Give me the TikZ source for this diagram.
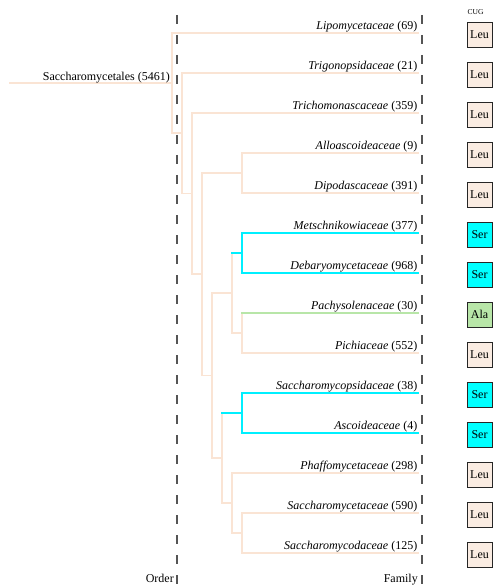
\documentclass[tikz,border=0pt]{standalone}
\usepackage{fontspec}
\setmainfont{Liberation Serif}
\usepackage{tikz}
\usetikzlibrary{calc}

\definecolor{leuline}{RGB}{250,228,212}
\definecolor{leufill}{RGB}{250,236,226}
\definecolor{serline}{RGB}{0,240,255}
\definecolor{serfill}{RGB}{0,255,255}
\definecolor{alaline}{RGB}{184,230,168}
\definecolor{guide}{RGB}{85,85,85}

\begin{document}
\begin{tikzpicture}[x=1pt,y=-1pt,
	branch/.style={line width=1.6pt, line cap=rect},
	taxon/.style={anchor=base east, inner sep=0pt, font=\fontsize{12}{14}\selectfont},
	cugbox/.style={draw=black!85, line width=0.8pt, minimum size=25pt, inner sep=0pt, font=\fontsize{12}{14}\selectfont},
	rank/.style={draw=guide, line width=1.2pt, dash pattern=on 9pt off 11pt}]
			\useasboundingbox (0,0) rectangle (493,585);
			% tips
			\coordinate (L1) at (418,33);
			\coordinate (L2) at (418,73);
			\coordinate (L3) at (418,113);
			\coordinate (L4) at (418,153);
			\coordinate (L5) at (418,193);
			\coordinate (L6) at (418,233);
			\coordinate (L7) at (418,273);
			\coordinate (L8) at (418,313);
			\coordinate (L9) at (418,353);
			\coordinate (L10) at (418,393);
			\coordinate (L11) at (418,433);
			\coordinate (L12) at (418,473);
			\coordinate (L13) at (418,513);
			\coordinate (L14) at (418,553);
			% inner nodes
			\coordinate (N12) at (242,533);
			\coordinate (N11) at (232,503);
			\coordinate (N10) at (242,413);
			\coordinate (N7) at (222,458);
			\coordinate (N9) at (242,333);
			\coordinate (N8) at (242,253);
			\coordinate (N6) at (232,293);
			\coordinate (N5) at (212,375.5);
			\coordinate (N4) at (242,173);
			\coordinate (N3) at (202,274.25);
			\coordinate (N2) at (192,193.6);
			\coordinate (N1) at (182,133.3);
			\coordinate (R) at (172,83.2);
			\coordinate (R0) at (10,83.2);
			% rank guides
			\draw[rank] (177,15) -- (177,585);
			\draw[rank] (422,15) -- (422,585);
			% Leu branches
			\draw[branch, leuline] (R0) -- (R);
			\draw[branch, leuline] (R |- L1) -- (R |- N1);
			\draw[branch, leuline] (R |- L1) -- (L1);
			\draw[branch, leuline] (R |- N1) -- (N1);
			\draw[branch, leuline] (N1 |- L2) -- (N1 |- N2);
			\draw[branch, leuline] (N1 |- L2) -- (L2);
			\draw[branch, leuline] (N1 |- N2) -- (N2);
			\draw[branch, leuline] (N2 |- L3) -- (N2 |- N3);
			\draw[branch, leuline] (N2 |- L3) -- (L3);
			\draw[branch, leuline] (N2 |- N3) -- (N3);
			\draw[branch, leuline] (N3 |- N4) -- (N3 |- N5);
			\draw[branch, leuline] (N3 |- N4) -- (N4);
			\draw[branch, leuline] (N3 |- N5) -- (N5);
			\draw[branch, leuline] (N4 |- L4) -- (N4 |- L5);
			\draw[branch, leuline] (N4 |- L4) -- (L4);
			\draw[branch, leuline] (N4 |- L5) -- (L5);
			\draw[branch, leuline] (N5 |- N6) -- (N5 |- N7);
			\draw[branch, leuline] (N5 |- N6) -- (N6);
			\draw[branch, leuline] (N5 |- N7) -- (N7);
			\draw[branch, leuline] (N6 |- N8) -- (N6 |- N9);
			\draw[branch, leuline] (N6 |- N9) -- (N9);
			\draw[branch, leuline] (N9 |- L8) -- (N9 |- L9);
			\draw[branch, leuline] (N9 |- L9) -- (L9);
			\draw[branch, leuline] (N7 |- N10) -- (N7 |- N11);
			\draw[branch, leuline] (N7 |- N11) -- (N11);
			\draw[branch, leuline] (N11 |- L12) -- (N11 |- N12);
			\draw[branch, leuline] (N11 |- L12) -- (L12);
			\draw[branch, leuline] (N11 |- N12) -- (N12);
			\draw[branch, leuline] (N12 |- L13) -- (N12 |- L14);
			\draw[branch, leuline] (N12 |- L13) -- (L13);
			\draw[branch, leuline] (N12 |- L14) -- (L14);
			% Ser and Ala branches
			\draw[branch, alaline] (N9 |- L8) -- (L8);
			\draw[branch, serline] (N6 |- N8) -- (N8);
			\draw[branch, serline] (N8 |- L6) -- (N8 |- L7);
			\draw[branch, serline] (N8 |- L6) -- (L6);
			\draw[branch, serline] (N8 |- L7) -- (L7);
			\draw[branch, serline] (N7 |- N10) -- (N10);
			\draw[branch, serline] (N10 |- L10) -- (N10 |- L11);
			\draw[branch, serline] (N10 |- L10) -- (L10);
			\draw[branch, serline] (N10 |- L11) -- (L11);
			% labels
			\node[taxon, xshift=-2pt, yshift=3pt] (order) at (R) {Saccharomycetales (5461)};
			\node[taxon, xshift=-0.5pt, yshift=3.5pt] (t1) at (L1) {\textit{Lipomycetaceae} (69)};
			\node[taxon, xshift=-0.5pt, yshift=3.5pt] (t2) at (L2) {\textit{Trigonopsidaceae} (21)};
			\node[taxon, xshift=-0.5pt, yshift=3.5pt] (t3) at (L3) {\textit{Trichomonascaceae} (359)};
			\node[taxon, xshift=-0.5pt, yshift=3.5pt] (t4) at (L4) {\textit{Alloascoideaceae} (9)};
			\node[taxon, xshift=-0.5pt, yshift=3.5pt] (t5) at (L5) {\textit{Dipodascaceae} (391)};
			\node[taxon, xshift=-0.5pt, yshift=3.5pt] (t6) at (L6) {\textit{Metschnikowiaceae} (377)};
			\node[taxon, xshift=-0.5pt, yshift=3.5pt] (t7) at (L7) {\textit{Debaryomycetaceae} (968)};
			\node[taxon, xshift=-0.5pt, yshift=3.5pt] (t8) at (L8) {\textit{Pachysolenaceae} (30)};
			\node[taxon, xshift=-0.5pt, yshift=3.5pt] (t9) at (L9) {\textit{Pichiaceae} (552)};
			\node[taxon, xshift=-0.5pt, yshift=3.5pt] (t10) at (L10) {\textit{Saccharomycopsidaceae} (38)};
			\node[taxon, xshift=-0.5pt, yshift=3.5pt] (t11) at (L11) {\textit{Ascoideaceae} (4)};
			\node[taxon, xshift=-0.5pt, yshift=3.5pt] (t12) at (L12) {\textit{Phaffomycetaceae} (298)};
			\node[taxon, xshift=-0.5pt, yshift=3.5pt] (t13) at (L13) {\textit{Saccharomycetaceae} (590)};
			\node[taxon, xshift=-0.5pt, yshift=3.5pt] (t14) at (L14) {\textit{Saccharomycodaceae} (125)};
			\node[taxon] (ordername) at (174,582) {Order};
			\node[taxon] (familyname) at (418,582) {Family};
			% CUG codon column
			\node[font=\fontsize{7.5}{9}\selectfont] (cug) at (475.5,12) {CUG};
			\node[cugbox, fill=leufill] (c1) at (479.5,34.5) {Leu};
			\node[cugbox, fill=leufill] (c2) at (479.5,74.5) {Leu};
			\node[cugbox, fill=leufill] (c3) at (479.5,114.5) {Leu};
			\node[cugbox, fill=leufill] (c4) at (479.5,154.5) {Leu};
			\node[cugbox, fill=leufill] (c5) at (479.5,194.5) {Leu};
			\node[cugbox, fill=serfill] (c6) at (479.5,234.5) {Ser};
			\node[cugbox, fill=serfill] (c7) at (479.5,274.5) {Ser};
			\node[cugbox, fill=alaline] (c8) at (479.5,314.5) {Ala};
			\node[cugbox, fill=leufill] (c9) at (479.5,354.5) {Leu};
			\node[cugbox, fill=serfill] (c10) at (479.5,394.5) {Ser};
			\node[cugbox, fill=serfill] (c11) at (479.5,434.5) {Ser};
			\node[cugbox, fill=leufill] (c12) at (479.5,474.5) {Leu};
			\node[cugbox, fill=leufill] (c13) at (479.5,514.5) {Leu};
			\node[cugbox, fill=leufill] (c14) at (479.5,554.5) {Leu};
		\end{tikzpicture}
\end{document}
